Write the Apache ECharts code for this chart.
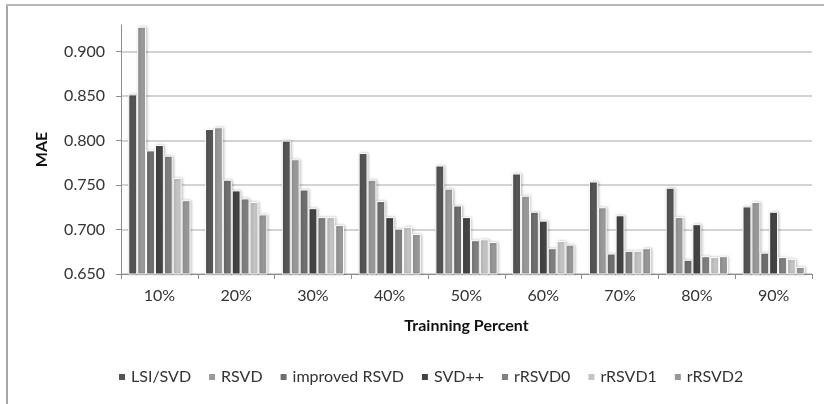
<!DOCTYPE html>
<html>
<head>
<meta charset="utf-8">
<script src="https://cdn.jsdelivr.net/npm/echarts@6/dist/echarts.min.js"></script>
<style>html,body{margin:0;padding:0;background:#fff}#c{width:824px;height:404px}</style>
</head>
<body>
<div id="c"></div>
<script>
var categories = ['10%','20%','30%','40%','50%','60%','70%','80%','90%'];
var yTicks = [0.65, 0.70, 0.75, 0.80, 0.85, 0.90];
var seriesNames = ['LSI/SVD','RSVD','improved RSVD','SVD++','rRSVD0','rRSVD1','rRSVD2'];
var lsiSvd       = [0.852, 0.813, 0.800, 0.786, 0.772, 0.763, 0.754, 0.747, 0.726];
var rsvd         = [0.928, 0.815, 0.779, 0.756, 0.746, 0.738, 0.725, 0.714, 0.731];
var improvedRsvd = [0.789, 0.756, 0.745, 0.732, 0.727, 0.720, 0.673, 0.666, 0.674];
var svdPlusPlus  = [0.795, 0.744, 0.724, 0.714, 0.714, 0.710, 0.716, 0.706, 0.720];
var rRsvd0       = [0.783, 0.735, 0.714, 0.701, 0.688, 0.679, 0.676, 0.670, 0.669];
var rRsvd1       = [0.758, 0.731, 0.714, 0.703, 0.689, 0.687, 0.676, 0.669, 0.667];
var rRsvd2       = [0.733, 0.717, 0.705, 0.695, 0.686, 0.683, 0.679, 0.670, 0.658];
var allValues = [lsiSvd, rsvd, improvedRsvd, svdPlusPlus, rRsvd0, rRsvd1, rRsvd2];
var colors = ['#555555','#9a9a9a','#6f6f6f','#444444','#808080','#c4c4c4','#989898'];

var font = 'Lato, "Open Sans", sans-serif';
var chart = echarts.init(document.getElementById('c'), null, {renderer:'canvas'});
var gridCol = '#c4c4c4';
var splitColors = yTicks.map(function(){return gridCol;}).concat(['rgba(0,0,0,0)']);

chart.setOption({
  animation: false,
  color: colors,
  textStyle: {fontFamily: font},
  graphic: [
    {type:'line', shape:{x1:7, y1:5, x2:7, y2:404}, style:{stroke:'#a8a8a8', lineWidth:2}},
    {type:'line', shape:{x1:6, y1:5, x2:824, y2:5}, style:{stroke:'#b8b8b8', lineWidth:2}}
  ],
  grid: {left:121, right:12, top:25, bottom:130},
  legend: {
    data: seriesNames,
    bottom: 14,
    left: 112,
    icon: 'rect',
    itemWidth: 8,
    itemHeight: 8,
    itemGap: 16,
    textStyle: {fontFamily: font, fontSize: 16, color: '#333'}
  },
  xAxis: {
    type: 'category',
    data: categories,
    name: 'Trainning Percent',
    nameLocation: 'middle',
    nameGap: 44,
    nameTextStyle: {fontFamily: font, fontSize: 16, fontWeight: 'bold', color: '#111'},
    axisLine: {lineStyle: {color: '#8c8c8c', width: 1}},
    axisTick: {show: true, length: 5, lineStyle: {color: '#8c8c8c'}},
    axisLabel: {fontFamily: font, fontSize: 16, color: '#333', margin: 14}
  },
  yAxis: {
    type: 'value',
    min: 0.65,
    max: 0.93,
    interval: 0.05,
    name: 'MAE',
    nameLocation: 'middle',
    nameGap: 71,
    nameRotate: 90,
    nameTextStyle: {fontFamily: font, fontSize: 16, fontWeight: 'bold', color: '#111'},
    axisLine: {show: true, lineStyle: {color: '#8c8c8c', width: 1}},
    axisTick: {show: true, length: 5, lineStyle: {color: '#8c8c8c'}, customValues: yTicks},
    axisLabel: {fontFamily: font, fontSize: 16, color: '#333', margin: 16, customValues: yTicks,
      formatter: function(v){ return v.toFixed(3); }},
    splitLine: {show: true, lineStyle: {color: splitColors, width: 1.5}}
  },
  series: seriesNames.map(function(n, i){
    return {
      name: n,
      type: 'bar',
      data: allValues[i],
      barGap: '0%',
      barCategoryGap: '19%',
      itemStyle: {
        color: colors[i],
        borderColor: '#ffffff',
        borderWidth: 1,
        shadowColor: 'rgba(0,0,0,0.25)',
        shadowBlur: 3,
        shadowOffsetX: 1,
        shadowOffsetY: 0
      }
    };
  })
});
</script>
</body>
</html>
